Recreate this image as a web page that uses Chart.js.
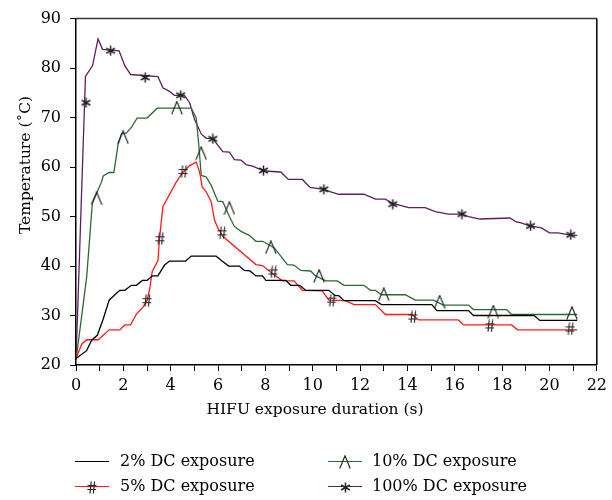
<!DOCTYPE html>
<html><head><meta charset="utf-8">
<script src="https://cdn.jsdelivr.net/npm/chart.js@4/dist/chart.umd.min.js"></script>
<style>
html,body{margin:0;padding:0;background:#fff;}
#wrap{position:relative;width:612px;height:500px;}
canvas{display:block;}
.lt{position:absolute;font-family:"DejaVu Serif";font-size:16px;color:#000;white-space:nowrap;line-height:18px;}
.ln{position:absolute;height:0;border-top:1.4px solid;}
.gl{position:absolute;}
</style></head><body>
<div id="wrap"><canvas id="c" width="612" height="500"></canvas><div id="legend"></div></div>
<script>
// ---------- data ----------
const seriesNames = ["2% DC exposure", "5% DC exposure", "10% DC exposure", "100% DC exposure"];
const xTitle = "HIFU exposure duration (s)";
const yTitle = "Temperature (\u02DAC)";

const timeDC2 = [0,0.45,0.66,0.9,1.15,1.4,1.64,1.85,2.06,2.34,2.55,2.8,3.0,3.22,3.46,3.74,3.95,4.63,4.87,5.92,6.17,6.45,6.9,7.11,7.35,7.6,7.88,8.02,8.86,9.07,9.45,9.7,10.68,10.95,11.1,11.32,12.65,12.9,15.03,15.24,16.58,16.79,19.35,19.59,21.17];
const tempDC2 = [21.3,22.9,25,26,29.3,33.1,34.2,35.1,35.1,36.1,36.1,37.1,37.1,38,38,40.2,41,41,42,42,41,40,40,39.1,39,38,38,37.1,37.1,36.1,36.1,35.1,35.1,34,34,33,33,32.2,32.2,31,31,30,30,29,29];

const timeDC5 = [0,0.24,0.45,0.94,1.4,1.85,2.06,2.31,2.55,2.83,3.0,3.11,3.22,3.46,3.53,3.67,4.24,4.51,4.8,5.08,5.22,5.33,5.5,5.71,5.85,5.99,6.2,7.6,7.88,8.16,8.44,8.72,9.21,9.56,10.4,10.68,11.39,11.74,12.65,13.07,14.19,14.47,16.15,16.37,18.4,18.65,21.17];
const tempDC5 = [21.3,24.2,25.1,25.1,27.1,27.1,28.1,28.1,30.3,31.7,33,35.3,38.9,41.1,45.7,52,57,58.9,60.3,61,59,56,55,53,49.3,47.7,46,40.3,40.1,39,38,37,37,35.1,35,33.1,33,32.2,32.2,30.2,30.2,29.1,29.1,28.1,28.1,27.1,27.1];

const timeDC10 = [0,0.45,0.69,1.08,1.15,1.4,1.6,1.78,1.92,2.13,2.34,2.58,3.0,3.43,4.87,5.08,5.19,5.29,5.5,5.71,5.99,6.2,6.48,6.69,6.97,7.32,7.6,7.88,8.37,8.65,8.93,9.2,9.5,9.91,10.12,10.55,11.04,11.32,12.16,12.44,12.65,12.9,13.91,14.33,15.1,15.52,16.58,16.79,18.19,18.4,21.17];
const tempDC10 = [21,37.7,52.7,57,58.2,58.9,58.9,64.7,66.7,66.9,68,69.9,69.9,71.9,71.9,69.9,64.3,58.3,58,56.3,53.1,53,50,48,47,46.2,45,45,43.7,42,40.3,40.2,39.1,39,38,37,37,36.1,36.1,35.1,35.1,34.2,34.2,33.1,33.1,32.1,32.1,31.2,31.2,30.2,30.2];

const timeDC100 = [0,0.4,0.7,0.93,1.12,1.82,2.06,2.31,3.46,3.67,3.95,4.16,4.58,4.8,5.0,5.29,5.5,5.77,6.2,6.48,6.69,6.97,7.18,7.46,7.95,8.65,8.97,9.56,9.89,10.47,10.76,11.1,12.16,12.65,13.07,13.35,14.05,14.75,15.17,15.73,16.3,16.58,17.07,18.33,18.6,18.8,19.17,19.66,20.0,20.36,20.85,21.17];
const tempDC100 = [21,78.3,80.5,85.9,83.8,83.5,80.5,78.7,78.3,76,75.3,74.5,74.5,73,69.7,66.7,65.8,65.8,63.1,63,61.5,61.4,60.5,60.2,59.2,59,57.5,57.5,55.9,55.5,55,54.5,54.5,53.5,53.5,52.7,51.8,51.8,51,50.5,50.5,50,49.5,49.7,48.9,48.7,48.1,47.7,46.7,46.7,46.3,46.2];

// marker symbols positions
const markTimeDC5 = [3.0,3.56,4.54,6.17,8.33,10.8,14.23,17.49,20.88];
const markTempDC5 = [33,45.5,59.1,46.7,38.8,33.1,29.7,27.9,27.3];
const markTimeDC10 = [0.87,1.99,4.26,5.29,6.48,8.23,10.27,13.0,15.36,17.63,20.95];
const markTempDC10 = [53.7,66,72,62.8,51.7,43.8,38,34.3,32.8,30.8,30.5];
const markTimeDC100 = [0.42,1.46,2.92,4.42,5.78,7.92,10.47,13.38,16.3,19.2,20.9];
const markTempDC100 = [73,83.5,78.1,74.5,65.7,59.3,55.5,52.5,50.5,48.1,46.3];

// ---------- styling ----------
const colors = ["#000000", "#ff1a1a", "#2b6a35", "#5c1f5e"];
const glyphColor = "#222";

function zip(xs, ys){ return xs.map((x,i)=>({x:x, y:ys[i]})); }

function glyphCanvas(kind){
  const c = document.createElement('canvas');
  let w, h;
  if (kind === 'hash'){ w = 10; h = 13; }
  else if (kind === 'lambda'){ w = 12; h = 14; }
  else { w = 11; h = 11; }
  c.width = w; c.height = h;
  const g = c.getContext('2d');
  g.strokeStyle = glyphColor; g.lineWidth = 1.15; g.lineCap = 'butt';
  g.beginPath();
  if (kind === 'hash'){
    g.moveTo(4.2,0.5); g.lineTo(3.0,12.5);
    g.moveTo(7.6,0.5); g.lineTo(6.4,12.5);
    g.moveTo(0.5,4.5); g.lineTo(9.5,4.5);
    g.moveTo(0.3,8.5); g.lineTo(9.2,8.5);
  } else if (kind === 'lambda'){
    g.moveTo(0.8,13.5); g.lineTo(6,0.8); g.lineTo(11.2,13.5);
  } else {
    const cx = 5.5, cy = 5.5, r = 5;
    for (let k=0;k<3;k++){
      const a = Math.PI/2 + k*Math.PI/3;
      g.moveTo(cx + r*Math.cos(a), cy + r*Math.sin(a));
      g.lineTo(cx - r*Math.cos(a), cy - r*Math.sin(a));
    }
    g.lineWidth = 1.5;
  }
  g.stroke();
  return c;
}

const lineDS = (label, xs, ys, color) => ({
  label, data: zip(xs, ys), borderColor: color, backgroundColor: color,
  borderWidth: 1.3, pointRadius: 0, tension: 0, showLine: true, order: 2
});
const markDS = (label, xs, ys, kind) => ({
  label, data: zip(xs, ys), showLine: false, pointStyle: glyphCanvas(kind),
  pointRadius: 5, pointHoverRadius: 5, order: 1
});

const frame = {
  id: 'frame',
  afterDraw(chart){
    const {ctx, chartArea:a} = chart;
    ctx.save();
    ctx.lineWidth = 1.5;
    ctx.strokeStyle = '#333';
    ctx.beginPath(); ctx.moveTo(a.left, a.top); ctx.lineTo(a.right, a.top); ctx.stroke();
    ctx.strokeStyle = '#000';
    ctx.beginPath(); ctx.moveTo(a.right, a.top); ctx.lineTo(a.right, a.bottom); ctx.stroke();
    // axis titles
    ctx.fillStyle = '#000';
    ctx.font = '15.5px "DejaVu Serif"';
    ctx.textAlign = 'center'; ctx.textBaseline = 'middle';
    ctx.fillText(xTitle, 315, 410);
    ctx.translate(26, 165); ctx.rotate(-Math.PI/2);
    ctx.fillText(yTitle, 0, 0);
    ctx.restore();
  }
};

new Chart(document.getElementById('c'), {
  type: 'scatter',
  data: { datasets: [
    lineDS(seriesNames[0], timeDC2, tempDC2, colors[0]),
    lineDS(seriesNames[1], timeDC5, tempDC5, colors[1]),
    lineDS(seriesNames[2], timeDC10, tempDC10, colors[2]),
    lineDS(seriesNames[3], timeDC100, tempDC100, colors[3]),
    markDS(seriesNames[1] + ' marker', markTimeDC5, markTempDC5, 'hash'),
    markDS(seriesNames[2] + ' marker', markTimeDC10, markTempDC10, 'lambda'),
    markDS(seriesNames[3] + ' marker', markTimeDC100, markTempDC100, 'star')
  ]},
  options: {
    responsive: false, animation: false, devicePixelRatio: 1,
    layout: { padding: { left: 0, right: 13, top: 15, bottom: 75 } },
    plugins: { legend: { display: false }, tooltip: { enabled: false } },
    scales: {
      x: {
        type: 'linear', min: 0, max: 22,
        afterFit: s => { s.height = 60; },
        border: { display: true, color: '#000', width: 1.5 },
        grid: { drawOnChartArea: false, drawTicks: true, tickLength: 6, color: '#000', lineWidth: 1 },
        ticks: { stepSize: 1, autoSkip: false, maxRotation: 0, padding: 5, color: '#000',
                 font: { family: 'DejaVu Serif', size: 16 },
                 callback: v => (v % 2 === 0 ? String(v) : '') }
      },
      y: {
        type: 'linear', min: 20, max: 90,
        afterFit: s => { s.width = 76; },
        border: { display: true, color: '#000', width: 1.5 },
        grid: { drawOnChartArea: false, drawTicks: true, tickLength: 6, color: '#000', lineWidth: 1 },
        ticks: { stepSize: 10, padding: 9, color: '#000', font: { family: 'DejaVu Serif', size: 16 } }
      }
    }
  },
  plugins: [frame]
});

// ---------- HTML legend ----------
const legendSpec = [
  { name: seriesNames[0], color: colors[0], glyph: null,     lx: 75,  tx: 120, y: 462 },
  { name: seriesNames[2], color: colors[2], glyph: 'lambda', lx: 328, tx: 372, y: 462 },
  { name: seriesNames[1], color: colors[1], glyph: 'hash',   lx: 75,  tx: 120, y: 487 },
  { name: seriesNames[3], color: colors[3], glyph: 'star',   lx: 328, tx: 372, y: 487 }
];
const lg = document.getElementById('legend');
legendSpec.forEach(it => {
  const ln = document.createElement('div');
  ln.className = 'ln';
  ln.style.left = it.lx + 'px'; ln.style.width = '34px';
  ln.style.top = (it.y - 0.7) + 'px'; ln.style.borderTopColor = it.color;
  lg.appendChild(ln);
  if (it.glyph){
    const gc = glyphCanvas(it.glyph);
    gc.className = 'gl';
    gc.style.left = (it.lx + 17 - gc.width/2) + 'px';
    gc.style.top = (it.y - gc.height/2) + 'px';
    lg.appendChild(gc);
  }
  const t = document.createElement('div');
  t.className = 'lt';
  t.textContent = it.name;
  t.style.left = it.tx + 'px';
  t.style.top = (it.y - 10) + 'px';
  lg.appendChild(t);
});
</script>
</body></html>
